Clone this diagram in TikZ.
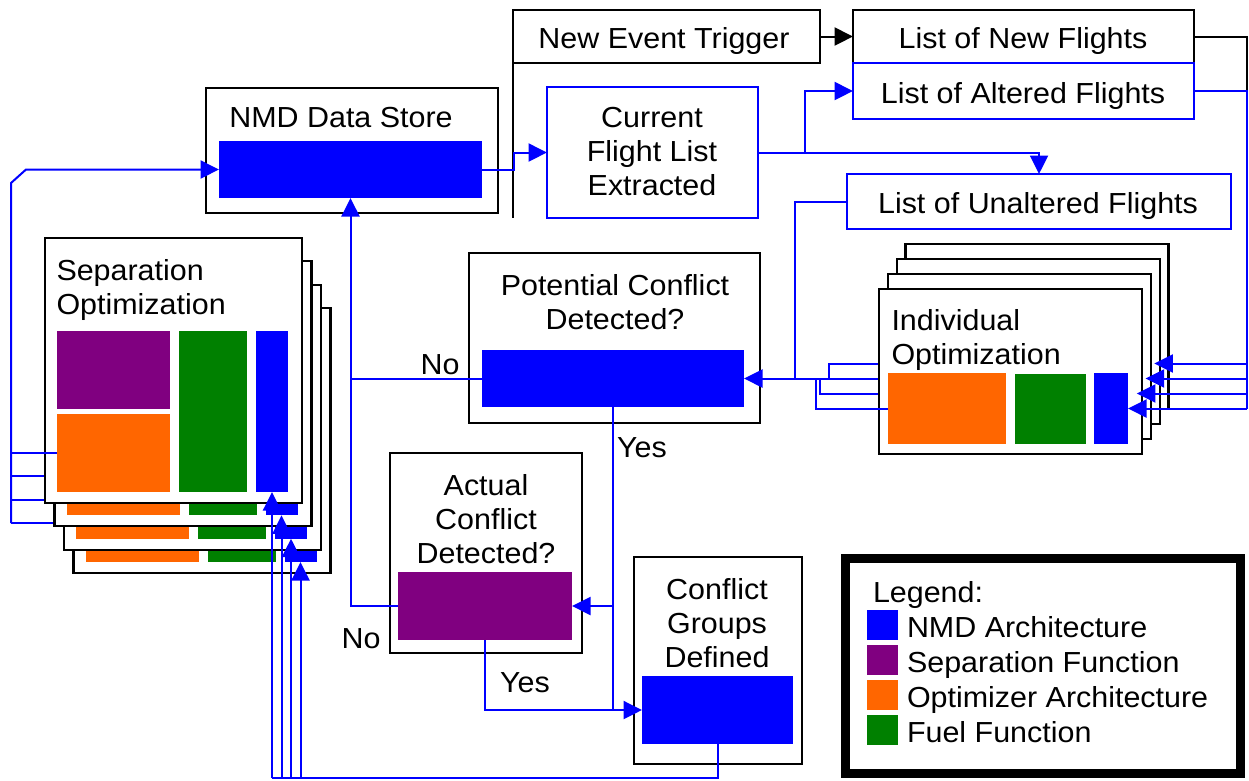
\documentclass[tikz,border=0pt]{standalone}
\usepackage{fontspec}
\setmainfont{Liberation Sans}[FakeStretch=1.05]
\usetikzlibrary{arrows.meta}
\definecolor{nmdblue}{RGB}{0,0,255}
\definecolor{seppurple}{RGB}{128,0,128}
\definecolor{optorange}{RGB}{255,102,0}
\definecolor{fuelgreen}{RGB}{0,128,0}
\newcommand\mkbox[6]{\node[#2, minimum width={(#5)-(#3)}, minimum height={(#6)-(#4)}] (#1) at ({((#3)+(#5))/2},{((#4)+(#6))/2}) {};}
\tikzset{
  blkbox/.style={draw=black, line width=2.2pt, fill=white, inner sep=0pt, outer sep=0pt},
  bluebox/.style={draw=nmdblue, line width=2pt, fill=white, inner sep=0pt, outer sep=0pt},
  fillB/.style={fill=nmdblue, inner sep=0pt, outer sep=0pt},
  fillP/.style={fill=seppurple, inner sep=0pt, outer sep=0pt},
  fillO/.style={fill=optorange, inner sep=0pt, outer sep=0pt},
  fillG/.style={fill=fuelgreen, inner sep=0pt, outer sep=0pt},
  legbox/.style={draw=black, line width=9pt, fill=white, inner sep=0pt, outer sep=0pt},
  txt/.style={font=\fontsize{29}{34}\selectfont, inner sep=0pt, outer sep=0pt},
  bl/.style={draw=nmdblue, line width=2pt},
  bk/.style={draw=black, line width=2pt},
  arr/.style={-{Triangle[length=18.5pt,width=18pt]}},
}
\newcommand\sepcopy[3]{%
  \mkbox{sep#1}{blkbox}{45+(#2)}{238+(#3)}{302+(#2)}{503+(#3)}
  \mkbox{sepP#1}{fillP}{57+(#2)}{331+(#3)}{170+(#2)}{409+(#3)}
  \mkbox{sepO#1}{fillO}{57+(#2)}{414+(#3)}{170+(#2)}{492+(#3)}
  \mkbox{sepG#1}{fillG}{179+(#2)}{331+(#3)}{247+(#2)}{492+(#3)}
  \mkbox{sepB#1}{fillB}{256+(#2)}{331+(#3)}{288+(#2)}{492+(#3)}
}
\newcommand\indcopy[3]{%
  \mkbox{ind#1}{blkbox}{879+(#2)}{289+(#3)}{1142+(#2)}{454+(#3)}
  \mkbox{indO#1}{fillO}{888+(#2)}{373+(#3)}{1006+(#2)}{444+(#3)}
  \mkbox{indG#1}{fillG}{1015+(#2)}{374+(#3)}{1086+(#2)}{444+(#3)}
  \mkbox{indB#1}{fillB}{1094+(#2)}{373+(#3)}{1128+(#2)}{444+(#3)}
}
\begin{document}
\begin{tikzpicture}[x=1pt,y=-1pt]
\useasboundingbox (0,0) rectangle (1249,780);
% main boxes
\mkbox{nmd}{blkbox}{206}{88}{498}{213}
\mkbox{nmdB}{fillB}{219}{141}{482}{198}
\mkbox{net}{blkbox}{513}{10}{820}{63}
\mkbox{lnf}{blkbox}{853}{10}{1194}{63}
\mkbox{laf}{bluebox}{853}{63}{1194}{119}
\mkbox{cfl}{bluebox}{547}{87}{758}{218}
\mkbox{luf}{bluebox}{847}{174}{1231}{229}
\mkbox{pcd}{blkbox}{469}{253}{760}{423}
\mkbox{pcdB}{fillB}{482}{350}{744}{407}
\mkbox{acd}{blkbox}{390}{453}{582}{653}
\mkbox{acdB}{fillP}{398}{572}{572}{640}
\mkbox{cgd}{blkbox}{634}{557}{802}{764}
\mkbox{cgdB}{fillB}{642}{676}{793}{744}
\mkbox{leg}{legbox}{845}{558}{1240}{773}
\mkbox{lgB}{fillB}{867}{610}{898}{640}
\mkbox{lgP}{fillP}{867}{645}{898}{675}
\mkbox{lgO}{fillO}{867}{680}{898}{710}
\mkbox{lgG}{fillG}{867}{715}{898}{745}
% coordinates
\coordinate (sT) at (11,183);
\coordinate (sD) at (26,169.5);
\coordinate (bL) at (272,778);
\coordinate (j3) at (829,378.5);
\coordinate (j1) at (820,378.5);
\coordinate (j0) at (816,378.5);
\coordinate (uJ) at (795,378.5);
\coordinate (rA) at (1247,91);
\coordinate (rB) at (1247,408.5);
\coordinate (cJ) at (514,169.5);
\coordinate (aJ) at (805,152.5);
% separation stack (back to front)
\sepcopy{3}{28.5}{70}
\draw[bl] (sepO3.west) -- (sepO3.west -| sT);
\sepcopy{2}{19}{46.7}
\draw[bl] (sepO2.west) -- (sepO2.west -| sT);
\sepcopy{1}{9.5}{23.3}
\draw[bl] (sepO1.west) -- (sepO1.west -| sT);
\sepcopy{0}{0}{0}
\draw[bl] (sepO0.west) -- (sepO0.west -| sT);
\draw[bl,arr] (sepO3.west -| sT) -- (sT) -- (sD) -- (nmdB.west);
% individual stack (back to front)
\indcopy{3}{26.4}{-45}
\draw[bl] (indO3.west) -| (j3);
\indcopy{2}{17.6}{-30}
\draw[bl,arr] (indO2.west) -- (pcdB.east);
\indcopy{1}{8.8}{-15}
\draw[bl] (indO1.west) -| (j1);
\indcopy{0}{0}{0}
\draw[bl] (indO0.west) -| (j0);
\draw[bl] (luf.west) -| (uJ);
% right side feed
\draw[bk] (lnf.east) -| (rA);
\draw[bl] (laf.east) -- (rA) -- (rB);
\foreach \k in {0,1,2,3}{\draw[bl,arr] (indB\k.east -| rA) -- (indB\k.east);}
% bottom feed
\draw[bl] (cgdB.south) |- (bL);
\foreach \k in {0,1,2,3}{\draw[bl,arr] (sepB\k.south |- bL) -- (sepB\k.south);}
% decisions
\coordinate (nJ) at (nmdB.south |- pcdB.west);
\draw[bl] (pcdB.west) -- (nJ);
\draw[bl,arr] (acdB.west) -| (nmdB.south);
\coordinate (yJ) at (pcdB.south |- cgdB.west);
\draw[bl] (pcdB.south) -- (yJ);
\draw[bl,arr] (pcdB.south |- acdB.east) -- (acdB.east);
\draw[bl,arr] (acdB.south) |- (cgdB.west);
% top flow
\draw[bk,line width=2.2pt] (net.south west) -- ++(0,155);
\draw[bl,arr] (nmdB.east) -- (cJ) |- (cfl.west);
\draw[bl,arr] (cfl.east) -- (aJ) |- (laf.west);
\draw[bl,arr] (cfl.east) -| (luf.north);
\draw[bk,arr] (net.east) -- (lnf.west);
% texts
\node[txt, anchor=base] (tnmd) at (341,127) {NMD Data Store};
\node[txt, anchor=base] (tnet) at (664,48) {New Event Trigger};
\node[txt, anchor=base] (tlnf) at (1023,48) {List of New Flights};
\node[txt, anchor=base] (tlaf) at (1023,103) {List of Altered Flights};
\node[txt, anchor=north, align=center] (tcfl) at (652,107) {Current\\Flight List\\Extracted};
\node[txt, anchor=base] (tluf) at (1038,213) {List of Unaltered Flights};
\node[txt, anchor=north west, align=left] (tsep) at (56.5,259) {Separation\\Optimization};
\node[txt, anchor=north, align=center] (tpcd) at (615,274) {Potential Conflict\\Detected?};
\node[txt, anchor=base] (tno1) at (440,374) {No};
\node[txt, anchor=base] (tyes1) at (642,457) {Yes};
\node[txt, anchor=north west, align=left] (tind) at (891.5,309) {Individual\\Optimization};
\node[txt, anchor=north, align=center] (tacd) at (486,474) {Actual\\Conflict\\Detected?};
\node[txt, anchor=base] (tno2) at (361,648) {No};
\node[txt, anchor=base] (tyes2) at (525,692) {Yes};
\node[txt, anchor=north, align=center] (tcgd) at (717,578) {Conflict\\Groups\\Defined};
\node[txt, anchor=base west] (tleg) at (873,602) {Legend:};
\node[txt, anchor=base west] (tlB) at (907,637) {NMD Architecture};
\node[txt, anchor=base west] (tlP) at (907,672) {Separation Function};
\node[txt, anchor=base west] (tlO) at (907,707) {Optimizer Architecture};
\node[txt, anchor=base west] (tlG) at (907,742) {Fuel Function};
\end{tikzpicture}
\end{document}
